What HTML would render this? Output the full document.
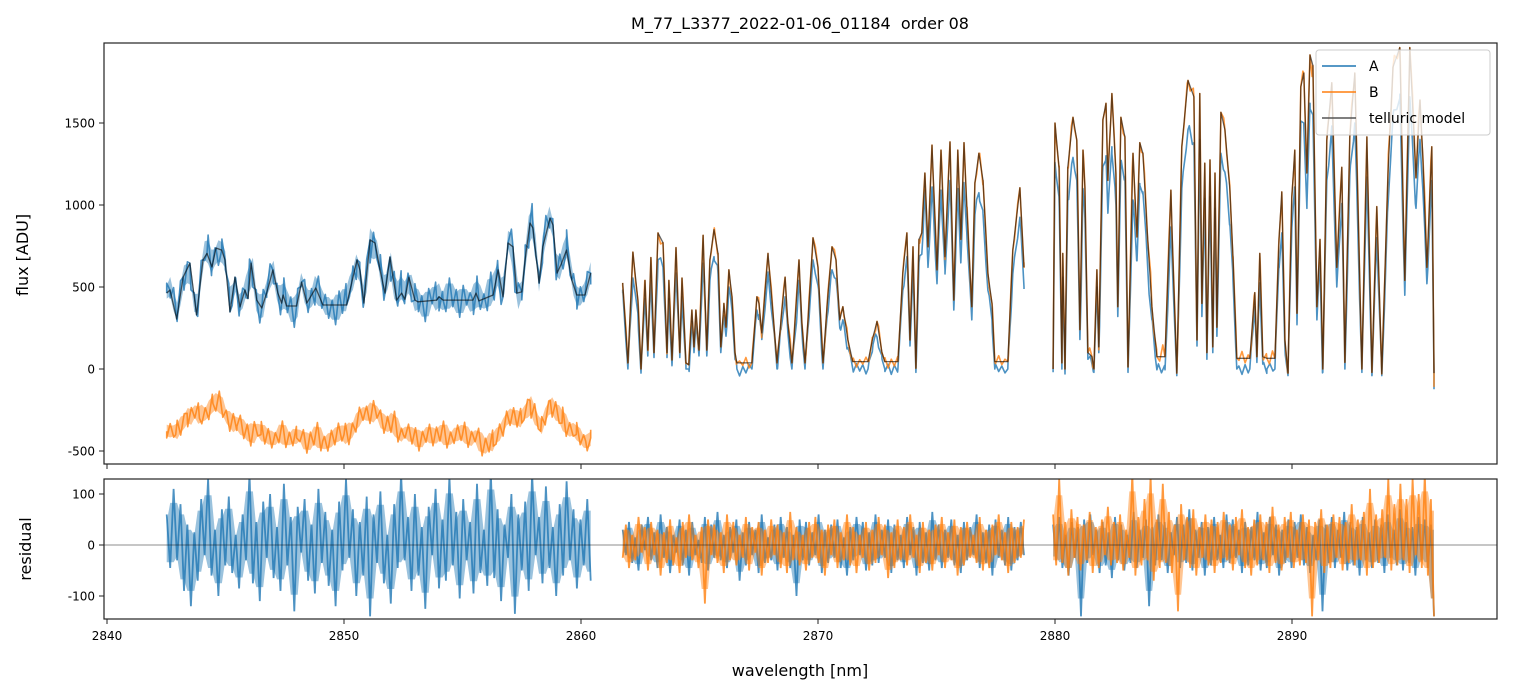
<!DOCTYPE html>
<html><head><meta charset="utf-8"><style>
html,body{margin:0;padding:0;background:#fff;}
svg{display:block;font-family:"DejaVu Sans","Liberation Sans",sans-serif;}
</style></head><body>
<svg id="chart" width="1513" height="696" viewBox="0 0 1513 696" xmlns="http://www.w3.org/2000/svg">
<defs>
<clipPath id="clipTop"><rect x="104" y="43" width="1393" height="421"/></clipPath>
<clipPath id="clipRes"><rect x="104" y="479" width="1393" height="140"/></clipPath>
</defs>
<text x="800" y="29" font-size="16" text-anchor="middle" xml:space="preserve">M_77_L3377_2022-01-06_01184&#160; order 08</text>
<text transform="translate(28,255) rotate(-90)" font-size="16" text-anchor="middle">flux [ADU]</text>
<text transform="translate(31,549) rotate(-90)" font-size="16" text-anchor="middle">residual</text>
<text x="800" y="676" font-size="16" text-anchor="middle">wavelength [nm]</text>
<g id="topMarks" clip-path="url(#clipTop)"></g>
<g id="resMarks" clip-path="url(#clipRes)"></g>
<g id="axes"></g>
<g>
<rect x="1316" y="50" width="174" height="85" rx="3" fill="#fff" fill-opacity="0.8" stroke="#ccc"/>
<line x1="1322" y1="66" x2="1356" y2="66" stroke="#1f77b4" stroke-width="1.5"/>
<text x="1369" y="71" font-size="14">A</text>
<line x1="1322" y1="92" x2="1356" y2="92" stroke="#ff7f0e" stroke-width="1.5"/>
<text x="1369" y="97" font-size="14">B</text>
<line x1="1322" y1="118" x2="1356" y2="118" stroke="#555" stroke-width="1.5"/>
<text x="1369" y="123" font-size="14">telluric model</text>
</g>
</svg>
<script>
const WL_BASE = 2840;
const seg1Wl = [2.52,2.66,2.94,3.21,3.50,3.78,4.05,4.22,4.43,4.60,4.84,4.98,5.19,5.40,5.61,5.82,5.95,6.08,6.32,6.53,6.74,7.00,7.21,7.37,7.43,7.58,8.00,8.21,8.43,8.81,9.11,10.11,10.32,10.55,10.67,10.84,11.10,11.31,11.52,11.73,11.94,12.22,12.43,12.57,12.74,12.99,13.12,13.91,14.01,14.18,15.44,15.57,15.69,16.29,16.50,16.71,16.92,17.13,17.29,17.50,17.64,17.85,17.97,18.23,18.39,18.69,18.82,18.99,19.18,19.39,19.61,19.82,20.17,20.41];
const seg1Model = [463,482,305,560,645,330,665,705,622,738,725,665,348,560,378,482,430,645,420,372,463,604,463,402,451,384,384,530,402,494,390,390,524,665,604,402,787,768,604,463,683,420,463,425,560,420,410,420,440,420,420,463,415,451,604,440,768,745,463,470,665,890,860,524,745,920,878,585,645,725,543,451,451,585];
const seg1A = [463,482,305,560,645,330,665,705,622,738,725,665,348,560,378,482,430,645,420,372,463,604,463,402,451,384,384,530,402,494,390,390,524,665,604,402,787,768,604,463,683,420,463,425,560,420,410,420,440,420,420,463,415,451,604,440,768,745,463,470,665,890,860,524,745,920,878,585,645,725,543,451,451,585];
const seg1BWl = [2.52,2.9,3.38,3.9,4.47,5.0,5.48,6.5,8.0,9.1,10.0,11.0,11.8,12.5,14.0,15.0,16.3,16.9,17.5,17.85,18.3,18.7,19.2,19.8,20.2,20.41];
const seg1B = [-380,-400,-270,-300,-210,-260,-350,-400,-420,-440,-400,-260,-320,-400,-410,-400,-470,-280,-330,-190,-380,-190,-330,-400,-440,-420];
const seg2Wl = [21.76,21.98,22.19,22.40,22.53,22.70,22.82,22.95,23.08,23.25,23.46,23.63,23.71,23.84,24.01,24.17,24.26,24.43,24.55,24.68,24.77,24.85,24.98,25.15,25.31,25.44,25.61,25.78,25.90,26.03,26.12,26.24,26.37,26.50,26.58,27.21,27.42,27.51,27.63,27.89,28.10,28.27,28.44,28.61,28.73,28.90,28.98,29.20,29.32,29.45,29.58,29.79,30.00,30.21,30.38,30.59,30.76,30.92,31.05,31.26,31.47,32.11,32.32,32.49,32.70,32.82,33.37,33.58,33.75,33.88,34.01,34.13,34.26,34.38,34.51,34.64,34.81,35.02,35.19,35.36,35.57,35.73,35.90,36.03,36.16,36.28,36.49,36.62,36.79,36.96,37.17,37.34,37.46,38.01,38.22,38.52,38.69];
const seg2Model = [525,37,713,420,0,540,115,680,100,830,770,100,540,55,740,100,555,37,25,360,135,360,115,815,115,665,850,705,135,400,255,605,440,100,37,37,440,400,220,705,340,37,300,560,280,37,177,665,280,37,300,800,620,37,380,745,665,300,380,177,45,45,195,290,100,45,45,585,830,177,745,5,790,830,1195,745,1365,605,1335,685,1385,420,1335,790,1380,990,380,1135,1315,1150,585,400,45,45,725,1105,620];
const seg2A = [463,0,555,340,-25,430,80,540,70,665,620,70,430,20,585,70,440,0,0,290,100,290,80,645,80,540,685,580,100,320,200,500,360,60,0,0,360,330,180,585,280,0,240,440,220,0,140,540,230,0,250,665,510,0,310,605,550,250,300,130,0,0,150,195,60,0,0,480,685,140,600,-20,650,700,1090,620,1110,520,1090,580,1150,360,1100,660,1120,830,300,940,1075,950,480,300,0,0,580,925,500];
const seg3Wl = [39.92,40.00,40.17,40.29,40.33,40.42,40.54,40.76,40.92,41.05,41.18,41.26,41.39,41.56,41.64,41.77,41.85,42.02,42.15,42.23,42.40,42.57,42.65,42.78,42.95,43.08,43.29,43.46,43.58,43.71,43.88,44.09,44.30,44.64,44.89,44.97,45.14,45.35,45.61,45.86,45.99,46.11,46.20,46.32,46.41,46.54,46.66,46.75,46.83,47.00,47.17,47.38,47.51,47.67,48.22,48.43,48.52,48.64,48.77,48.94,49.28,49.45,49.57,49.70,49.83,49.99,50.12,50.21,50.37,50.50,50.63,50.76,50.88,51.05,51.18,51.30,51.47,51.68,51.89,52.10,52.23,52.44,52.65,52.95,53.16,53.37,53.58,53.79,54.05,54.26,54.55,54.76,54.97,55.23,55.40,55.52,55.69,55.90,55.99];
const seg3Model = [0,1500,1230,37,705,0,1230,1535,1395,240,1335,1110,100,75,0,605,135,1520,1620,1150,1680,1195,380,1535,1415,12,1315,805,1380,1315,865,380,75,75,1090,700,-25,1355,1760,1660,177,1680,400,1255,100,1275,135,1195,255,1565,1460,1090,685,65,65,465,75,705,75,65,65,790,1080,177,-25,1050,1335,340,1720,1805,1195,1915,1850,380,790,0,1395,1745,620,1230,40,1415,1805,0,1415,-20,990,-30,1195,1840,1960,540,1960,1165,1640,1300,620,1355,-25];
const seg3A = [-20,1260,1050,0,560,-30,1030,1290,1150,180,1100,920,60,30,-20,500,100,1235,1300,950,1355,1000,320,1255,1170,-20,1030,660,1120,1080,700,300,-5,-5,865,560,-40,1100,1460,1380,140,1400,320,1040,60,1050,100,980,200,1315,1200,880,540,0,0,380,40,525,30,0,0,640,830,130,-40,860,1100,270,1475,1500,980,1620,1550,300,650,-20,1150,1450,500,1010,0,1180,1500,-20,1170,-40,800,-40,1000,1550,1650,450,1660,980,1400,1100,520,1150,-40];
const res1A = [60,-45,110,-30,80,-90,40,-120,25,-70,90,-20,130,-60,30,-100,70,-40,95,-55,20,-85,60,-30,140,-75,45,-110,85,-25,100,-65,35,-90,120,-40,55,-130,75,-15,90,-70,40,-95,110,-35,65,-80,30,-120,85,-50,130,-25,70,-100,45,-60,95,-140,60,-35,105,-75,20,-115,80,-45,140,-30,55,-90,100,-60,35,-125,75,-20,110,-85,50,-70,135,-40,65,-105,90,-30,45,-95,120,-55,30,-80,145,-65,70,-110,40,-25,100,-135,60,-50,85,-90,140,-20,55,-75,115,-45,35,-100,80,-60,125,-30,70,-85,50,-40,90,-70];
const noise1B = [-40,55,-20,70,-60,30,-80,45,-10,90,-50,25,-70,60,-35,100,-45,15,-85,50,-25,75,-60,35,-90,65,-15,80,-55,40,-75,20,-40,95,-65,30,-50,70,-20,55,-85,45,-30,110,-60,25,-70,50,-45,80,-35,60,-90,20,-55,75,-25,40,-65,85,-10,50,-80,35,-45,100,-70,30,-20,65,-55,45,-95,25,-40,70,-60,55,-30,90,-75,20,-50,60,-35,80,-65,40,-15,75,-85,30,-45,95,-25,50,-70,35,-55,65,-40,85,-20,45,-90,60,-30,70,-50,25,-80,55,-35,100,-60,40,-25,75,-45,30,-65,50];
const res2A = [30,-20,45,-35,15,-50,40,-10,55,-30,25,-45,60,-25,35,-55,20,-15,50,-40,30,-60,45,-20,10,-35,55,-50,40,-25,65,-30,20,-45,35,-15,50,-70,25,-40,45,-20,30,-55,60,-35,15,-30,40,-50,55,-25,35,-45,20,-100,50,-30,45,-40,25,-20,60,-55,30,-35,40,-25,50,-45,15,-60,35,-30,55,-20,45,-50,25,-40,60,-35,30,-25,50,-55,40,-30,20,-45,55,-20,35,-60,45,-35,25,-50,65,-30,40,-45,30,-25,50,-40,20,-55,45,-30,35,-20,60,-45,25,-35,40,-60,50,-25,30,-40,55,-50,35,-30,45,-20];
const res2B = [-25,40,-45,20,-30,55,-15,35,-50,45,-20,30,-60,25,-35,50,-40,15,-55,45,-25,60,-30,20,-45,35,-115,50,-20,40,-35,25,-55,60,-30,45,-40,20,-25,55,-50,35,-15,45,-60,30,-35,50,-20,40,-45,25,-55,65,-30,35,-40,20,-50,45,-25,55,-35,30,-60,40,-20,50,-45,25,-30,60,-40,35,-55,20,-25,45,-50,30,-35,55,-20,40,-65,25,-45,50,-30,35,-40,60,-25,20,-55,45,-35,30,-50,40,-20,55,-45,25,-30,50,-60,35,-40,45,-25,20,-35,55,-50,30,-45,40,-20,60,-30,25,-55,45,-35,35,-25,50];
const res3A = [40,-30,55,-45,20,-60,45,-25,35,-140,50,-35,60,-20,30,-55,45,-40,25,-65,55,-30,40,-50,20,-35,65,-45,30,-25,50,-120,35,-40,60,-30,45,-55,25,-20,55,-45,40,-35,70,-50,30,-25,45,-60,35,-40,55,-30,20,-45,60,-35,50,-25,30,-55,45,-40,35,-30,65,-50,25,-45,55,-20,40,-60,30,-35,50,-45,45,-25,60,-40,35,-55,20,-30,50,-130,40,-35,55,-45,30,-25,65,-50,45,-40,35,-60,55,-30,25,-45,50,-35,40,-55,60,-25,30,-40,70,-50,45,-35,35,-60,55,-30,50,-45,40,-140];
const res3B = [60,-40,130,-35,45,-60,70,-25,55,-50,40,-30,65,-55,35,-45,50,-20,75,-40,45,-35,60,-50,30,-25,140,-60,55,-40,90,-30,135,-70,50,-45,120,-35,65,-55,40,-130,80,-30,55,-45,70,-60,35,-25,60,-40,50,-55,45,-35,65,-30,40,-50,55,-20,70,-45,35,-60,50,-40,60,-30,45,-55,75,-35,40,-50,55,-25,65,-45,30,-40,60,-35,50,-140,45,-30,70,-55,40,-45,60,-25,55,-50,45,-35,80,-40,50,-30,65,-60,110,-45,60,-35,70,-25,130,-50,80,-40,120,-30,90,-55,130,-20,100,-45,140,-60,90,-140];
const xTicks = [2840,2850,2860,2870,2880,2890];
const yTicksTop = [-500,0,500,1000,1500];
const yTicksRes = [-100,0,100];

const NS = 'http://www.w3.org/2000/svg';
function xs(w){ return 107 + (w - 2840) * 23.7; }
function yTop(v){ return 369 - v * 0.164; }
function yRes(v){ return 545 - v * 0.51; }
function interp(wl, vals, w){
  if (w <= wl[0]) return vals[0];
  for (let i = 1; i < wl.length; i++){
    if (w <= wl[i]){ const t = (w - wl[i-1]) / (wl[i] - wl[i-1]); return vals[i-1] + t * (vals[i] - vals[i-1]); }
  }
  return vals[vals.length - 1];
}
function mk(tag, attrs, parent){
  const el = document.createElementNS(NS, tag);
  for (const k in attrs) el.setAttribute(k, attrs[k]);
  parent.appendChild(el); return el;
}
const topG = document.getElementById('topMarks');
const resG = document.getElementById('resMarks');
const axG = document.getElementById('axes');

function sampleWl(wl, n, i){ const a = wl[0], b = wl[wl.length-1]; return a + (b - a) * i / (n - 1); }
function noisyPath(wl, vals, noise, yf, scale){
  const pts = [];
  for (let i = 0; i < wl.length; i++) pts.push([wl[i], vals[i]]);
  for (let i = 0; i < noise.length; i++){
    const w = sampleWl(wl, noise.length, i);
    pts.push([w, interp(wl, vals, w) + noise[i] * scale]);
  }
  pts.sort((p, q) => p[0] - q[0]);
  let d = '';
  pts.forEach((p, i) => { d += (i ? 'L' : 'M') + xs(WL_BASE + p[0]).toFixed(1) + ',' + yf(p[1]).toFixed(1); });
  return d;
}
// envelope band from the noise data: running max/min over neighbours
function bandPath(wl, vals, noise, yf, scale){
  const n = noise.length, up = [], dn = [];
  for (let i = 0; i < n; i++){
    const w = sampleWl(wl, n, i);
    const nb = noise.slice(Math.max(0, i-1), Math.min(n, i+2));
    const base = interp(wl, vals, w);
    up.push([w, base + Math.max(...nb) * scale * 0.75]);
    dn.push([w, base + Math.min(...nb) * scale * 0.75]);
  }
  let d = '';
  up.forEach((p, i) => { d += (i ? 'L' : 'M') + xs(WL_BASE + p[0]).toFixed(1) + ',' + yf(p[1]).toFixed(1); });
  dn.reverse().forEach(p => { d += 'L' + xs(WL_BASE + p[0]).toFixed(1) + ',' + yf(p[1]).toFixed(1); });
  return d + 'Z';
}
function smoothPath(wl, vals, yf){
  let d = '';
  for (let i = 0; i < wl.length; i++) d += (i ? 'L' : 'M') + xs(WL_BASE + wl[i]).toFixed(1) + ',' + yf(vals[i]).toFixed(1);
  return d;
}
function resPath(wl, res){
  let d = '';
  for (let i = 0; i < res.length; i++){
    const w = sampleWl(wl, res.length, i);
    d += (i ? 'L' : 'M') + xs(WL_BASE + w).toFixed(1) + ',' + yRes(res[i]).toFixed(1);
  }
  return d;
}
const zeroWl = [0, 1], zeroVals = [0, 0];

const segs = [
  {wl: seg1Wl, model: seg1Model, a: seg1A, resA: res1A, bWl: seg1BWl, b: seg1B, bNoise: noise1B, resB: null, sc: 1},
  {wl: seg2Wl, model: seg2Model, a: seg2A, resA: res2A, bWl: seg2Wl, b: seg2Model, bNoise: res2B, resB: res2B, sc: 0.6},
  {wl: seg3Wl, model: seg3Model, a: seg3A, resA: res3A, bWl: seg3Wl, b: seg3Model, bNoise: res3B, resB: res3B, sc: 0.6}
];
segs.forEach((s, k) => {
  if (k === 0){
    const ba = mk('path', {d: bandPath(s.wl, s.a, s.resA, yTop, 1), fill: '#1f77b4', 'fill-opacity': 0.45, stroke: 'none'}, topG);
    
    
    const bb = mk('path', {d: bandPath(s.bWl, s.b, s.bNoise, yTop, 1), fill: '#ff7f0e', 'fill-opacity': 0.45, stroke: 'none'}, topG);
    
    
  }
  const pa = mk('path', {d: noisyPath(s.wl, s.a, s.resA, yTop, s.sc), fill: 'none', stroke: '#1f77b4', 'stroke-opacity': 0.8, 'stroke-width': k ? 1.6 : 1.6, 'stroke-linejoin': 'round'}, topG);
  
  
  const pb = mk('path', {d: noisyPath(s.bWl, s.b, s.bNoise, yTop, k ? s.sc : 1), fill: 'none', stroke: '#ff7f0e', 'stroke-opacity': 0.8, 'stroke-width': 1.6, 'stroke-linejoin': 'round'}, topG);
  
  
  const pm = mk('path', {d: smoothPath(s.wl, s.model, yTop), fill: 'none', stroke: '#000', 'stroke-opacity': 0.6, 'stroke-width': 1.3, 'stroke-linejoin': 'round'}, topG);
  
  
  const segZero = s.wl.map(() => 0);
  const rba = mk('path', {d: bandPath(s.wl, segZero, s.resA, yRes, 1), fill: '#1f77b4', 'fill-opacity': 0.45, stroke: 'none'}, resG);
  
  
  const ra = mk('path', {d: resPath(s.wl, s.resA), fill: 'none', stroke: '#1f77b4', 'stroke-opacity': 0.8, 'stroke-width': 1.8}, resG);
  
  
  if (s.resB){
    const rbb = mk('path', {d: bandPath(s.wl, segZero, s.resB, yRes, 1), fill: '#ff7f0e', 'fill-opacity': 0.45, stroke: 'none'}, resG);
    
    
    const rb = mk('path', {d: resPath(s.wl, s.resB), fill: 'none', stroke: '#ff7f0e', 'stroke-opacity': 0.8, 'stroke-width': 1.8}, resG);
    
    
  }
});
const zl = mk('line', {x1: 104, x2: 1497, y1: yRes(0), y2: yRes(0), stroke: '#000', 'stroke-opacity': 0.6, 'stroke-width': 0.8}, resG);



const f1 = mk('rect', {x: 104, y: 43, width: 1393, height: 421, fill: 'none', stroke: '#222', 'stroke-width': 1.2}, axG);


const f2 = mk('rect', {x: 104, y: 479, width: 1393, height: 140, fill: 'none', stroke: '#222', 'stroke-width': 1.2}, axG);


xTicks.forEach(t => {
  const x = xs(t);
  const t1 = mk('line', {x1: x, x2: x, y1: 464, y2: 469, stroke: '#222'}, axG);
  
  
  const t2 = mk('line', {x1: x, x2: x, y1: 619, y2: 624, stroke: '#222'}, axG);
  
  
  const lb = mk('text', {x: x, y: 640, 'font-size': 12, 'text-anchor': 'middle'}, axG);
  lb.textContent = t;
  
  
});
yTicksTop.forEach(t => {
  const y = yTop(t);
  const tk = mk('line', {x1: 99, x2: 104, y1: y, y2: y, stroke: '#222'}, axG);
  
  
  const lb = mk('text', {x: 95, y: y + 4.5, 'font-size': 12, 'text-anchor': 'end'}, axG);
  lb.textContent = t;
  
  
});
yTicksRes.forEach(t => {
  const y = yRes(t);
  const tk = mk('line', {x1: 99, x2: 104, y1: y, y2: y, stroke: '#222'}, axG);
  
  
  const lb = mk('text', {x: 95, y: y + 4.5, 'font-size': 12, 'text-anchor': 'end'}, axG);
  lb.textContent = t;
  
  
});
</script>
</body></html>
